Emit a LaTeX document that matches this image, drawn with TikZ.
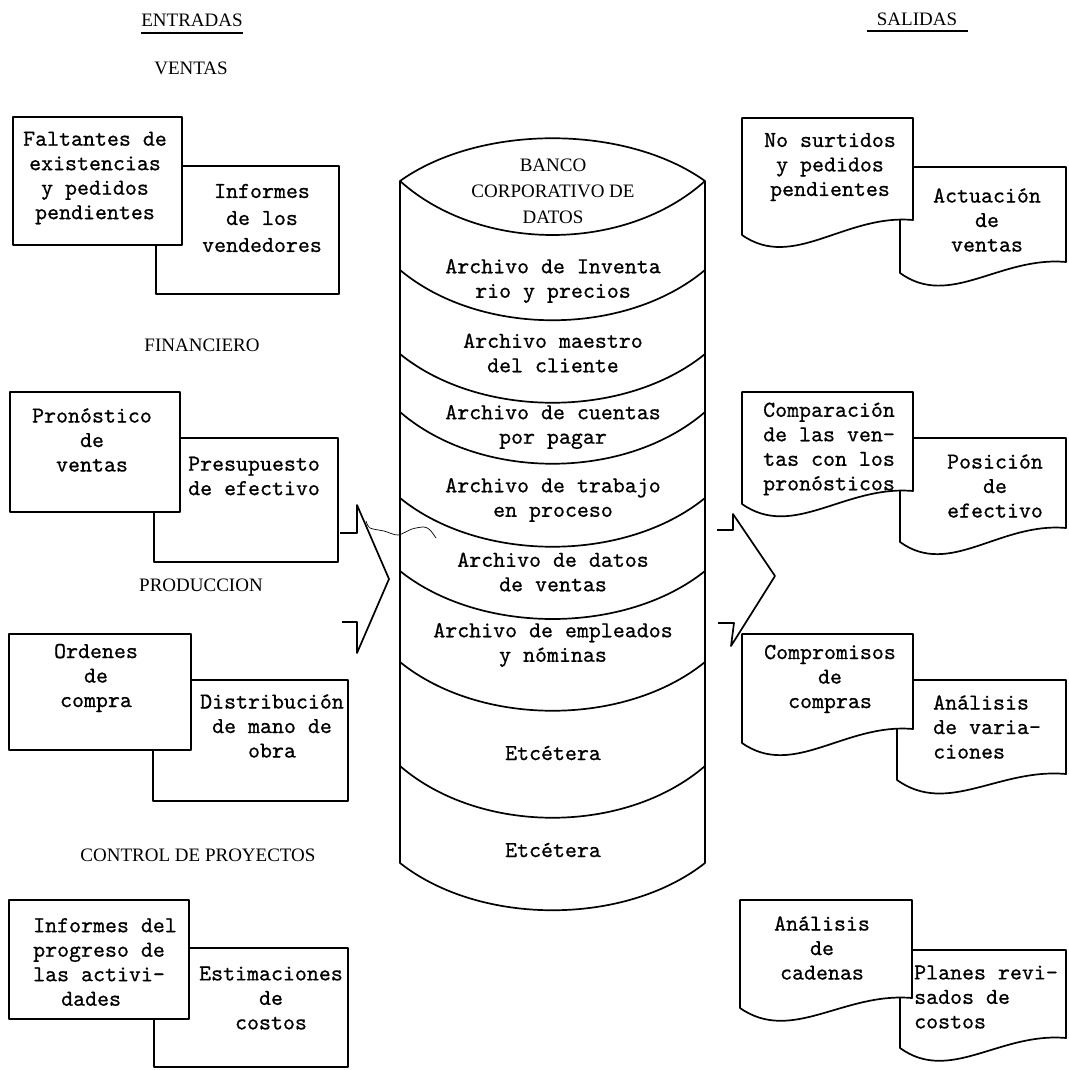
\documentclass[tikz,border=0pt]{standalone}
\usepackage{fontspec}
\newfontfamily\hdfont{Liberation Serif}
\newfontfamily\twfont[FakeBold=0.7]{lmmono10-regular.otf}
\newcommand\docshape[5]{% xL xR top yL yR
  \draw[shp] (#1,#3) -- (#2,#3) -- (#2,#5)
    .. controls ({#1+0.6*(#2-#1)},{#5-6}) and ({#1+0.3*(#2-#1)},{#4+36}) .. (#1,#4) -- cycle;}
\newcommand\rectshape[4]{\draw[shp] (#1,#3) rectangle (#2,#4);}
\newcommand\lensarc[2]{% ends y, control y
  \draw[shp,fill=none] (400,#1) .. controls (480,#2) and (625,#2) .. (705,#1);}
\begin{document}
\begin{tikzpicture}[x=1pt,y=-1pt,
  shp/.style={draw=black, line width=1.7pt, fill=white, line join=round},
  tw/.style={font=\twfont\fontsize{22.8}{24.5}\selectfont, align=center, inner sep=0pt},
  twl/.style={tw, align=left, anchor=west},
  hd/.style={font=\hdfont\fontsize{19}{26}\selectfont, align=center, inner sep=0pt}]
\useasboundingbox[fill=white] (0,0) rectangle (1068,1070);

% ---------- headings
\node[hd] (entradas) at (192,20) {ENTRADAS};
\draw[line width=1.2pt] (141,33) -- (243,33);
\node[hd] (salidas) at (917,19) {SALIDAS};
\draw[line width=1.2pt] (867,31) -- (968,31);
\node[hd] (ventas) at (191,68) {VENTAS};
\node[hd] (financiero) at (202,345) {FINANCIERO};
\node[hd] (produccion) at (201,585) {PRODUCCION};
\node[hd] (control) at (198,855) {CONTROL DE PROYECTOS};

% ---------- left boxes
\rectshape{156}{339}{166}{294}
\rectshape{13}{182}{117}{245}
\node[tw] (a1) at (95,178) {Faltantes de\\existencias\\y pedidos\\pendientes};
\node[tw, font=\twfont\fontsize{22.8}{27}\selectfont] (a2) at (262,218) {Informes\\de los\\vendedores};

\rectshape{154}{338}{438}{562}
\rectshape{10}{180}{392}{512}
\node[tw] (b1) at (92,440) {Pronóstico\\de\\ventas};
\node[twl] (b2) at (188,476) {Presupuesto\\de efectivo};

\rectshape{153}{348}{680}{801}
\rectshape{9}{191}{634}{750}
\node[tw] (c1) at (96,678) {Ordenes\\de\\compra};
\node[tw] (c2) at (272,726) {Distribución\\de mano de\\obra};

\rectshape{154}{348}{948}{1067}
\rectshape{9}{189}{900}{1019}
\node[twl] (d1) at (33,962) {Informes del\\progreso de\\las activi-\\\hspace*{28pt}dades};
\node[tw] (d2) at (271,998) {Estimaciones\\de\\costos};

% ---------- right document boxes
\docshape{900}{1066}{167}{273}{262}
\docshape{742}{913}{118}{235}{220}
\node[tw] (ra1) at (830,167) {No surtidos\\y pedidos\\pendientes};
\node[tw] (ra2) at (987,220) {Actuación\\de\\ventas};

\docshape{900}{1066}{438}{542}{528}
\docshape{742}{913}{392}{504}{491}
\node[twl] (rb1) at (763,449) {Comparación\\de las ven-\\tas con los\\pronósticos};
\node[tw] (rb2) at (995,486) {Posición\\de\\efectivo};

\docshape{897}{1066}{680}{780}{774}
\docshape{742}{913}{634}{743}{729}
\node[tw] (rc1) at (830,679) {Compromisos\\de\\compras};
\node[twl] (rc2) at (933,727) {Análisis\\de varia-\\ciones};

\docshape{900}{1066}{950}{1048}{1038}
\docshape{740}{912}{900}{1008}{998}
\node[tw] (rd1) at (822,948) {Análisis\\de\\cadenas};
\node[twl] (rd2) at (914,997) {Planes revi-\\sados de\\costos};

% ---------- cylinder
\draw[shp,fill=none] (400,181) .. controls (480,124) and (625,124) .. (705,181)
   -- (705,863) .. controls (625,926) and (480,926) .. (400,863) -- cycle;
\lensarc{181}{253}
\lensarc{270}{337}
\lensarc{354}{419}
\lensarc{412}{481}
\lensarc{498}{563}
\lensarc{571}{635}
\lensarc{662}{727}
\lensarc{766}{835}

\node[hd] (banco) at (553,191) {BANCO\\CORPORATIVO DE\\DATOS};
\node[tw] (f1) at (553,281) {Archivo de Inventa\\rio y precios};
\node[tw] (f2) at (553,353) {Archivo maestro\\del cliente};
\node[tw] (f3) at (553,427) {Archivo de cuentas\\por pagar};
\node[tw] (f4) at (553,500) {Archivo de trabajo\\en proceso};
\node[tw] (f5) at (553,572) {Archivo de datos\\de ventas};
\node[tw] (f6) at (553,645) {Archivo de empleados\\y nóminas};
\node[tw] (f7) at (553,753) {Etcétera};
\node[tw] (f8) at (553,850) {Etcétera};

% ---------- block arrows
\draw[shp,fill=none] (340,533) -- (357,533) -- (357,505) -- (389,579) -- (357,653) -- (357,622) -- (342,622);
\draw[shp,fill=none] (717,530) -- (733,530) -- (733,514) -- (775,576) -- (731,646) -- (734,623) -- (718,623);

% stray pen scribble
\draw[line width=0.7pt] plot[smooth] coordinates {(366,521) (370,528) (384,531) (398,535) (412,529) (424,527) (430,530) (436,538)};
\end{tikzpicture}
\end{document}
